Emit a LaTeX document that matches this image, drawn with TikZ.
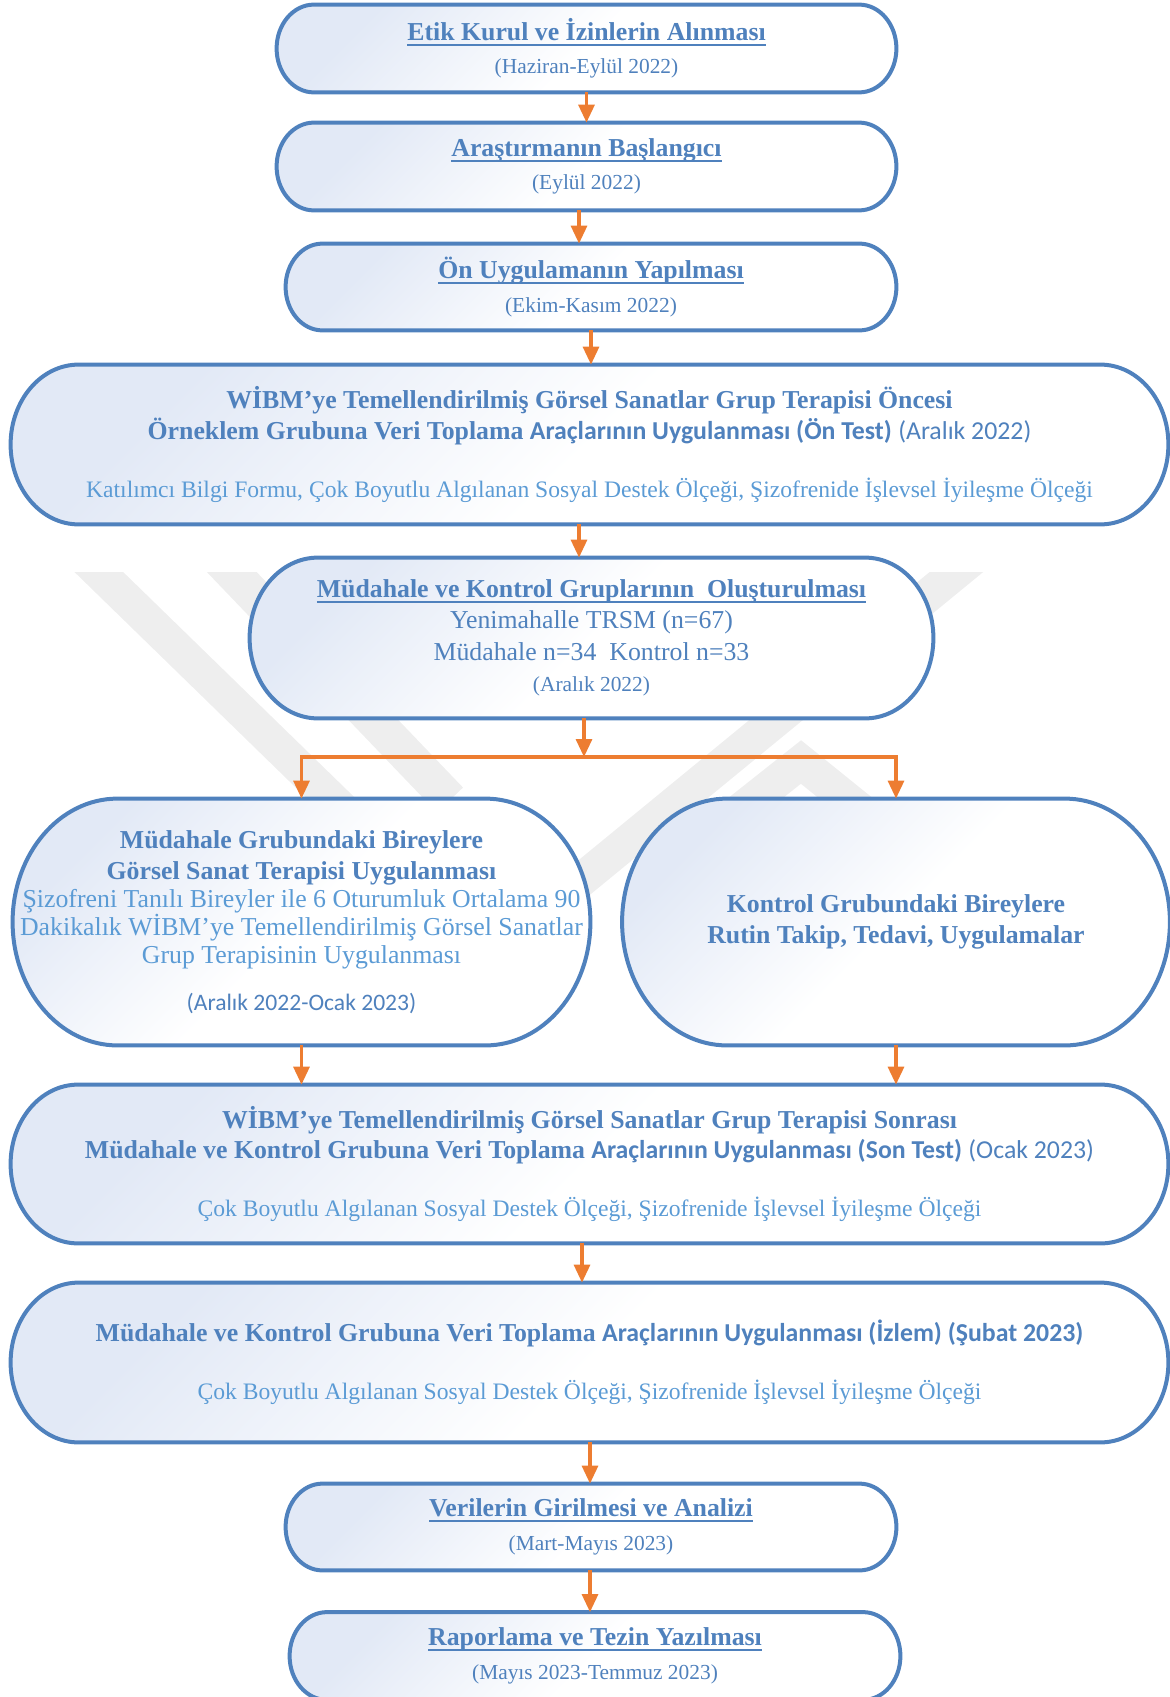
\documentclass[tikz,border=0pt]{standalone}
\usepackage{fontspec}
\setmainfont{Liberation Serif}
\newfontfamily\calibri{Carlito}
\usetikzlibrary{calc,arrows.meta,backgrounds}
\definecolor{kenar}{RGB}{79,129,189}
\definecolor{yazi}{RGB}{79,129,189}
\definecolor{acik}{RGB}{91,155,213}
\definecolor{dolgu}{RGB}{226,233,246}
\definecolor{okrenk}{RGB}{237,125,49}
\definecolor{filigran}{RGB}{238,238,238}
\pgfdeclarelayer{wm}
\pgfsetlayers{wm,background,main}
\newcommand\ulined[1]{\setbox0\hbox{#1}\rlap{\rule[-2.6pt]{\wd0}{1pt}}\box0}
\newcommand\tarih{\fontsize{10.7}{13}\selectfont}
\newcommand\liste{\color{acik}\fontsize{11.8}{14}\selectfont}
\newcommand\termpath[1]{%
  \path[kutu] let \p1=(#1.north west), \p2=(#1.south east),
    \n1={0.5*(\y1-\y2)}, \n2={0.85*\n1} in
    (\x1+\n2,\y1) -- (\x2-\n2,\y1)
    arc[start angle=90, end angle=-90, x radius=\n2, y radius=\n1]
    -- (\x1+\n2,\y2)
    arc[start angle=270, end angle=90, x radius=\n2, y radius=\n1] -- cycle;}
\tikzset{
  adim/.style={inner sep=0pt, align=center, text=yazi, font=\fontsize{12.9}{15.7}\selectfont},
  kutu/.style={draw=kenar, line width=2pt, top color=dolgu, bottom color=white,
    middle color=white, shading angle=45},
  okst/.style={-{Triangle[length=9pt,width=8pt]}, draw=okrenk, line width=1.6pt},
  wm/.style={draw=filigran, line width=17pt, line join=miter},
}
\begin{document}
\begin{tikzpicture}[x=0.5pt, y=-0.5pt]
    \useasboundingbox (0,0) rectangle (1169,1697);
    \node[adim, minimum width=309.5pt, minimum height=43.5pt] (etik) at (586.5,48.5)
        {{\bfseries\ulined{Etik Kurul ve İzinlerin Alınması}}\\[1pt]{\tarih(Haziran-Eylül 2022)}};
    \node[adim, minimum width=309.5pt, minimum height=43.5pt] (basla) at (586.5,166.5)
        {{\bfseries\ulined{Araştırmanın Başlangıcı}}\\[1pt]{\tarih(Eylül 2022)}};
    \node[adim, minimum width=305pt, minimum height=43pt] (onuyg) at (591,287)
        {{\bfseries\ulined{Ön Uygulamanın Yapılması}}\\[1pt]{\tarih(Ekim-Kasım 2022)}};
    \node[adim, minimum width=578.5pt, minimum height=79.5pt] (ontest) at (589.5,444.5)
        {{\bfseries WİBM’ye Temellendirilmiş Görsel Sanatlar Grup Terapisi Öncesi}\\
         {\bfseries Örneklem Grubuna Veri Toplama {\calibri Araçlarının Uygulanması (Ön Test)}} {\calibri(Aralık 2022)}\\[13.3pt]
         {\liste Katılımcı Bilgi Formu, Çok Boyutlu Algılanan Sosyal Destek Ölçeği, Şizofrenide İşlevsel İyileşme Ölçeği}};
    \node[adim, minimum width=341.5pt, minimum height=80pt] (gruplar) at (591.5,638)
        {{\bfseries\ulined{Müdahale ve Kontrol Gruplarının\ \ Oluşturulması}}\\
         Yenimahalle TRSM (n=67)\\
         Müdahale n=34\ \ Kontrol n=33\\
         {\tarih(Aralık 2022)}};
    \node[adim, minimum width=288.5pt, minimum height=123pt] (mudah) at (301.5,922)
        {{\bfseries Müdahale Grubundaki Bireylere}\\
         {\bfseries Görsel Sanat Terapisi Uygulanması}\\[-1.7pt]
         {\color{acik}Şizofreni Tanılı Bireyler ile 6 Oturumluk Ortalama 90}\\[-1.7pt]
         {\color{acik}Dakikalık WİBM’ye Temellendirilmiş Görsel Sanatlar}\\[-1.7pt]
         {\color{acik}Grup Terapisinin Uygulanması}\\[7.5pt]
         {\calibri\fontsize{11.8}{14}\selectfont(Aralık 2022-Ocak 2023)}};
    \node[adim, minimum width=273.5pt, minimum height=123pt] (kontrol) at (896,922)
        {{\bfseries Kontrol Grubundaki Bireylere}\\{\bfseries Rutin Takip, Tedavi, Uygulamalar}};
    \node[adim, minimum width=578.5pt, minimum height=79pt] (sontest) at (589.5,1164)
        {{\bfseries WİBM’ye Temellendirilmiş Görsel Sanatlar Grup Terapisi Sonrası}\\[-0.5pt]
         {\bfseries Müdahale ve Kontrol Grubuna Veri Toplama {\calibri Araçlarının Uygulanması (Son Test)}} {\calibri(Ocak 2023)}\\[13.5pt]
         {\liste Çok Boyutlu Algılanan Sosyal Destek Ölçeği, Şizofrenide İşlevsel İyileşme Ölçeği}};
    \node[adim, minimum width=578.5pt, minimum height=79.5pt] (izlem) at (589.5,1362.5)
        {{\bfseries Müdahale ve Kontrol Grubuna Veri Toplama {\calibri Araçlarının Uygulanması (İzlem) (Şubat 2023)}}\\[13.5pt]
         {\liste Çok Boyutlu Algılanan Sosyal Destek Ölçeği, Şizofrenide İşlevsel İyileşme Ölçeği}};
    \node[adim, minimum width=305pt, minimum height=43pt] (analiz) at (591,1527)
        {{\bfseries\ulined{Verilerin Girilmesi ve Analizi}}\\[1pt]{\tarih(Mart-Mayıs 2023)}};
    \node[adim, minimum width=305pt, minimum height=43.5pt] (rapor) at (595,1656)
        {{\bfseries\ulined{Raporlama ve Tezin Yazılması}}\\[1pt]{\tarih(Mayıs 2023-Temmuz 2023)}};
    \begin{pgfonlayer}{background}
        \foreach \k in {etik,basla,onuyg,ontest,gruplar,mudah,kontrol,sontest,izlem,analiz,rapor}
            {\termpath{\k}}
    \end{pgfonlayer}
    \begin{pgfonlayer}{wm}
        \begin{scope}
            \clip (0,572) rectangle (1169,1000);
            \draw[wm] (68,542) -- (491,954) -- (993,542);
            \draw[wm, line width=18pt] (203,542) -- (450,800);
            \draw[wm] (690,850) -- (801,762) -- (910,850);
        \end{scope}
    \end{pgfonlayer}
    \coordinate (catal) at (584,757);
    \draw[okst] (etik.south) -- (basla.north);
    \draw[okst] (basla.south -| 579,0) -- (onuyg.north -| 579,0);
    \draw[okst] (onuyg.south) -- (ontest.north -| onuyg.south);
    \draw[okst] (ontest.south -| 579,0) -- (gruplar.north -| 579,0);
    \draw[okst] (gruplar.south -| catal) -- (catal);
    \draw[okst] (catal) -| (mudah.north);
    \draw[okst] (catal) -| (kontrol.north);
    \draw[okst] (mudah.south) -- (sontest.north -| mudah.south);
    \draw[okst] (kontrol.south) -- (sontest.north -| kontrol.south);
    \draw[okst] (sontest.south -| 582,0) -- (izlem.north -| 582,0);
    \draw[okst] (izlem.south -| 590,0) -- (analiz.north -| 590,0);
    \draw[okst] (analiz.south -| 590,0) -- (rapor.north -| 590,0);
\end{tikzpicture}
\end{document}
